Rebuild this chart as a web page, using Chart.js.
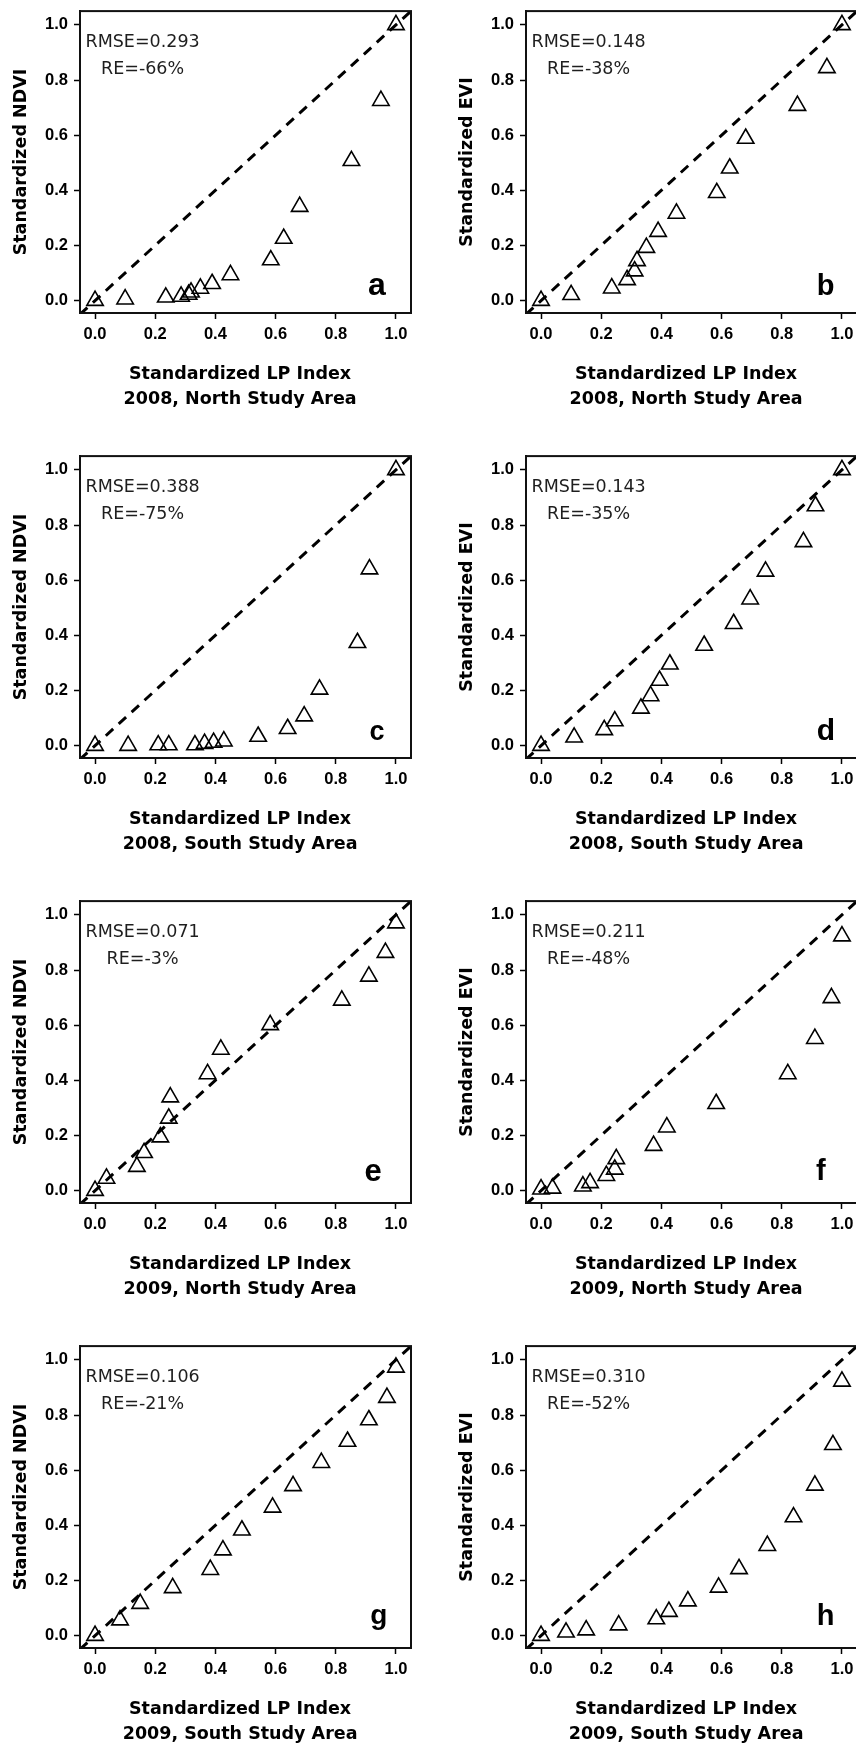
<!DOCTYPE html>
<html>
<head>
<meta charset="utf-8">
<script src="https://cdn.jsdelivr.net/npm/chart.js@4.4.1/dist/chart.umd.min.js"></script>
<style>
html, body { margin: 0; padding: 0; background: #fff; overflow: hidden; }
#wrap { position: relative; width: 856px; height: 1747px; overflow: hidden; }
#wrap canvas { position: absolute; }
</style>
</head>
<body>
<div id="wrap"></div>
<script>
// standardized LP index (x), shared by the NDVI and EVI panel of each year/area
var lpNorth2008 = [0, 0.10, 0.235, 0.286, 0.311, 0.319, 0.35, 0.389, 0.45, 0.584, 0.627, 0.68, 0.852, 0.95, 1.0];
var lpSouth2008 = [0, 0.11, 0.21, 0.245, 0.332, 0.364, 0.394, 0.428, 0.542, 0.64, 0.695, 0.746, 0.872, 0.912, 1.0];
var lpNorth2009 = [0, 0.038, 0.139, 0.163, 0.217, 0.245, 0.25, 0.374, 0.418, 0.582, 0.82, 0.91, 0.965, 1.0];
var lpSouth2009 = [0, 0.083, 0.15, 0.258, 0.383, 0.425, 0.488, 0.59, 0.658, 0.752, 0.839, 0.91, 0.97, 1.0];

// standardized vegetation indices (y)
var ndviNorth2008 = [0, 0.005, 0.012, 0.015, 0.022, 0.03, 0.044, 0.061, 0.093, 0.147, 0.225, 0.341, 0.507, 0.725, 1.0];
var eviNorth2008  = [0, 0.021, 0.045, 0.075, 0.107, 0.144, 0.192, 0.25, 0.316, 0.391, 0.48, 0.588, 0.707, 0.844, 1.0];
var ndviSouth2008 = [0, 0.0, 0.002, 0.002, 0.002, 0.007, 0.011, 0.016, 0.033, 0.061, 0.107, 0.204, 0.373, 0.64, 1.0];
var eviSouth2008  = [0, 0.03, 0.057, 0.089, 0.135, 0.18, 0.236, 0.295, 0.363, 0.442, 0.531, 0.632, 0.739, 0.869, 1.0];
var ndviNorth2009 = [0, 0.044, 0.087, 0.137, 0.194, 0.262, 0.339, 0.423, 0.512, 0.601, 0.69, 0.777, 0.863, 0.97];
var eviNorth2009  = [0.005, 0.008, 0.016, 0.028, 0.054, 0.077, 0.115, 0.163, 0.23, 0.315, 0.423, 0.551, 0.699, 0.923];
var ndviSouth2009 = [0, 0.056, 0.116, 0.173, 0.239, 0.31, 0.382, 0.465, 0.543, 0.627, 0.704, 0.782, 0.863, 0.973];
var eviSouth2009  = [0, 0.012, 0.02, 0.038, 0.06, 0.087, 0.125, 0.175, 0.242, 0.326, 0.43, 0.545, 0.692, 0.922];

var tickValues = [0, 0.2, 0.4, 0.6, 0.8, 1.0];
var oneToOne = [-0.05, 1.05];   // 1:1 reference line ends

var panels = [
    { letter: 'a', x: lpNorth2008, y: ndviNorth2008, yTitle: 'Standardized NDVI', area: '2008, North Study Area', rmse: '0.293', re: '-66%' },
    { letter: 'b', x: lpNorth2008, y: eviNorth2008,  yTitle: 'Standardized EVI',  area: '2008, North Study Area', rmse: '0.148', re: '-38%' },
    { letter: 'c', x: lpSouth2008, y: ndviSouth2008, yTitle: 'Standardized NDVI', area: '2008, South Study Area', rmse: '0.388', re: '-75%' },
    { letter: 'd', x: lpSouth2008, y: eviSouth2008,  yTitle: 'Standardized EVI',  area: '2008, South Study Area', rmse: '0.143', re: '-35%' },
    { letter: 'e', x: lpNorth2009, y: ndviNorth2009, yTitle: 'Standardized NDVI', area: '2009, North Study Area', rmse: '0.071', re: '-3%' },
    { letter: 'f', x: lpNorth2009, y: eviNorth2009,  yTitle: 'Standardized EVI',  area: '2009, North Study Area', rmse: '0.211', re: '-48%' },
    { letter: 'g', x: lpSouth2009, y: ndviSouth2009, yTitle: 'Standardized NDVI', area: '2009, South Study Area', rmse: '0.106', re: '-21%' },
    { letter: 'h', x: lpSouth2009, y: eviSouth2009,  yTitle: 'Standardized EVI',  area: '2009, South Study Area', rmse: '0.310', re: '-52%' }
];

// panel letter placement (data coords of the baseline centre) and size
var letterStyle = [
    { x: 0.937, y: 0.019, size: 32 },
    { x: 0.946, y: 0.019, size: 29 },
    { x: 0.937, y: 0.019, size: 27 },
    { x: 0.947, y: 0.019, size: 30 },
    { x: 0.924, y: 0.033, size: 31 },
    { x: 0.930, y: 0.037, size: 29 },
    { x: 0.943, y: 0.043, size: 28 },
    { x: 0.946, y: 0.037, size: 29 }
];

var TICK_FONT = { family: 'Liberation Sans', size: 16.5, weight: 'bold' };
var TITLE_FAMILY = 'DejaVu Sans';

// frame, stats text, panel letter and two-line x title
var panelDecor = {
    id: 'panelDecor',
    afterDraw: function (chart, args, o) {
        var ctx = chart.ctx, a = chart.chartArea;
        var xs = chart.scales.x, ys = chart.scales.y;
        ctx.save();
        ctx.strokeStyle = '#111';
        ctx.lineWidth = 2;
        ctx.strokeRect(a.left, a.top, a.right - a.left, a.bottom - a.top);

        ctx.fillStyle = '#1e1e1e';
        ctx.font = '17.5px "DejaVu Sans"';
        ctx.textAlign = 'center';
        ctx.textBaseline = 'alphabetic';
        var cx = xs.getPixelForValue(0.158);
        ctx.fillText('RMSE=' + o.rmse, cx, ys.getPixelForValue(0.92));
        ctx.fillText('RE=' + o.re, cx, ys.getPixelForValue(0.822));

        ctx.fillStyle = '#000';
        ctx.font = 'bold ' + o.letterSize + 'px "Liberation Sans"';
        ctx.fillText(o.letter, xs.getPixelForValue(o.letterX), ys.getPixelForValue(o.letterY));

        ctx.font = 'bold 17.5px "' + TITLE_FAMILY + '"';
        var tx = xs.getPixelForValue(0.482);
        ctx.fillText('Standardized LP Index', tx, a.bottom + 65.5);
        ctx.fillText(o.area, tx, a.bottom + 90.5);
        ctx.restore();
    }
};

function fixTicks(scale) {
    scale.ticks = tickValues.map(function (v) { return { value: v }; });
}

function axisBase() {
    return {
        type: 'linear',
        afterBuildTicks: fixTicks,
        grid: { drawOnChartArea: false, drawTicks: true, tickLength: 6, tickWidth: 1.5, tickColor: '#000' },
        border: { display: true, color: '#111', width: 2 },
        ticks: {
            color: '#000',
            font: TICK_FONT,
            padding: 6,
            maxRotation: 0,
            callback: function (v) { return Number(v).toFixed(1); }
        }
    };
}

function buildPanel(p, i) {
    var col = i % 2, row = Math.floor(i / 2);
    var h = row === 3 ? 412 : 445;
    var canvas = document.createElement('canvas');
    canvas.width = 428;
    canvas.height = h;
    canvas.style.left = (col === 0 ? 0 : 446) + 'px';
    canvas.style.top = (row * 445) + 'px';
    canvas.style.width = '428px';
    canvas.style.height = h + 'px';
    document.getElementById('wrap').appendChild(canvas);

    var pts = p.x.map(function (v, k) { return { x: v, y: p.y[k] }; });
    var line = oneToOne.map(function (v) { return { x: v, y: v }; });

    var xAxis = axisBase();
    xAxis.min = -0.05;
    xAxis.max = 1.05;
    xAxis.afterFit = function (s) { s.height = h - 313; s.paddingLeft = 0; s.paddingRight = 0; };

    var yAxis = axisBase();
    yAxis.min = -0.045;
    yAxis.max = 1.05;
    yAxis.afterFit = function (s) { s.width = 80; s.paddingTop = 0; s.paddingBottom = 0; };
    yAxis.title = {
        display: true,
        text: p.yTitle,
        color: '#000',
        font: { family: TITLE_FAMILY, size: 17.5, weight: 'bold', lineHeight: 1.2 },
        padding: { top: 11, bottom: 0 }
    };

    var ls = letterStyle[i];
    return new Chart(canvas.getContext('2d'), {
        type: 'scatter',
        data: {
            datasets: [{
                data: line,
                showLine: true,
                borderColor: '#000',
                borderWidth: 3,
                borderDash: [10, 7.5],
                pointRadius: 0,
                fill: false
            }, {
                data: pts,
                pointStyle: 'triangle',
                pointRadius: 9.5,
                borderColor: '#000',
                borderWidth: 1.6,
                backgroundColor: 'rgba(0,0,0,0)',
                showLine: false
            }]
        },
        options: {
            responsive: false,
            animation: false,
            devicePixelRatio: 1,
            layout: { padding: { top: 7, right: 17, left: 0, bottom: 0 } },
            plugins: {
                legend: { display: false },
                tooltip: { enabled: false },
                panelDecor: {
                    rmse: p.rmse, re: p.re, letter: p.letter, area: p.area,
                    letterX: ls.x, letterY: ls.y, letterSize: ls.size
                }
            },
            scales: { x: xAxis, y: yAxis }
        },
        plugins: [panelDecor]
    });
}

panels.forEach(buildPanel);
</script>
</body>
</html>
